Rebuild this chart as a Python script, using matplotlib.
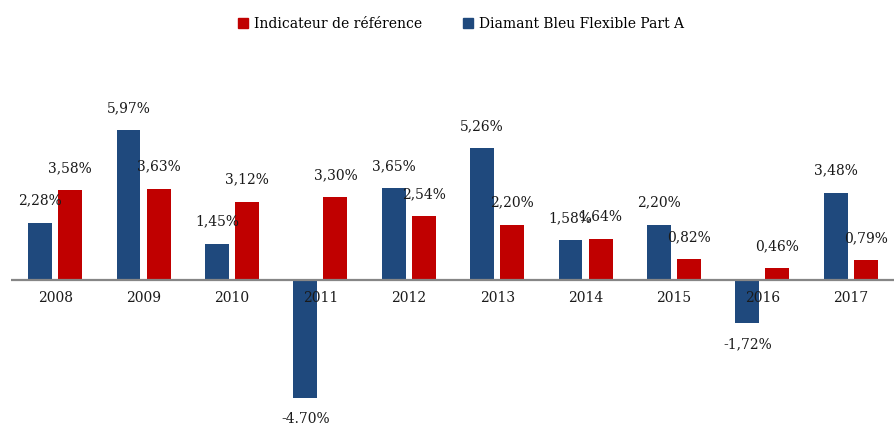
import numpy as np
import matplotlib.pyplot as plt
from matplotlib.patches import Patch

years = ['2008', '2009', '2010', '2011', '2012', '2013', '2014', '2015', '2016', '2017']
fund_values = [2.28, 5.97, 1.45, -4.70, 3.65, 5.26, 1.58, 2.20, -1.72, 3.48]
ref_values = [3.58, 3.63, 3.12, 3.30, 2.54, 2.20, 1.64, 0.82, 0.46, 0.79]
fund_labels = ['2,28%', '5,97%', '1,45%', '-4.70%', '3,65%', '5,26%', '1,58%', '2,20%', '-1,72%', '3,48%']
ref_labels = ['3,58%', '3,63%', '3,12%', '3,30%', '2,54%', '2,20%', '1,64%', '0,82%', '0,46%', '0,79%']

fund_name = 'Diamant Bleu Flexible Part A'
ref_name = 'Indicateur de référence'

blue = '#1F497D'
red = '#C00000'

plt.rcParams['font.family'] = ['DejaVu Serif']

fig = plt.figure(figsize=(8.95, 4.23), dpi=100)
ax = fig.add_axes([0, 0, 1, 1])

x = np.arange(len(years))
w = 0.27
off = 0.17
bars_f = ax.bar(x - off, fund_values, w, color=blue)
bars_r = ax.bar(x + off, ref_values, w, color=red)

# valeurs au-dessus / en dessous des barres
for bars, labels in ((bars_f, fund_labels), (bars_r, ref_labels)):
    for b, lab in zip(bars, labels):
        h = b.get_height()
        dy = 16 if h >= 0 else -15
        ax.annotate(lab, (b.get_x() + b.get_width() / 2, h), xytext=(0, dy),
                    textcoords='offset points', ha='center', va='center',
                    fontsize=10, color='#1a1a1a')

# axe horizontal
ax.hlines(0, -0.5, len(years) - 0.5, color='#868686', lw=1.6)
for xi, y in zip(x, years):
    ax.annotate(y, (xi, 0), xytext=(0, -13), textcoords='offset points',
                ha='center', va='center', fontsize=10, color='#1a1a1a')

ax.set_xlim(-0.624, 9.5)
ax.set_ylim(-5.70, 11.16)
ax.axis('off')

handles = [Patch(color=red), Patch(color=blue)]
fig.legend(handles, [ref_name, fund_name], loc='center', bbox_to_anchor=(0.515, 0.943),
           ncol=2, frameon=False, fontsize=10, handlelength=0.7, handleheight=0.7,
           handletextpad=0.4, columnspacing=3.0)

plt.savefig('out.png')
